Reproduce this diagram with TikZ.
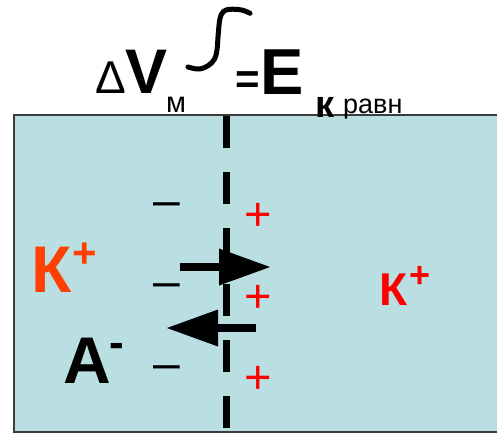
\documentclass[tikz,border=0pt]{standalone}
\usepackage{fontspec}
\setmainfont{Liberation Sans}
\usetikzlibrary{arrows.meta}
\definecolor{cellfill}{RGB}{186,223,227}
\definecolor{boxline}{RGB}{60,60,60}
\definecolor{kleft}{RGB}{255,64,0}
\definecolor{kright}{RGB}{255,0,0}
\newcommand{\px}[1]{\fontsize{#1pt}{#1pt}\selectfont}

\begin{document}
\begin{tikzpicture}[x=1pt, y=-1pt,
  lbl/.style={inner sep=0pt, anchor=base west},
  flux/.style={line width=8pt, -{Triangle[length=51pt, width=37pt, line width=0pt]}}]
  \useasboundingbox (0,0) rectangle (497,434);

  % Solution box
  \fill[cellfill] (14,115) rectangle (497,432);
  \draw[boxline, line width=2pt] (497,115) -- (14,115) -- (14,432) -- (497,432);

  % Membrane
  \coordinate (mtop) at (226,116);
  \coordinate (mbot) at (226,433);
  \draw[line width=7pt, dash pattern=on 32pt off 24pt] (mtop) -- (mbot);

  % Title
  \node[lbl, font=\px{46}] (delta) at (95,93) {Δ};
  \node[lbl, font=\px{63}\bfseries] (vsym) at (125,93) {V};
  \node[lbl, font=\px{29}] (vsub) at (166,112) {м};
  \draw[line width=5pt, line cap=round, line join=round]
    plot[smooth, tension=0.6] coordinates {(188,67) (200,69) (211.5,63) (216.5,53) (218.3,33) (220,18.5) (223.5,11.5) (230,9.3) (241.7,10) (250,13.3)};
  \node[lbl, font=\px{42}\bfseries] (eqs) at (235,93) {=};
  \node[lbl, font=\px{65}\bfseries] (esym) at (260,94) {E};
  \node[lbl, font=\px{38}\bfseries] (ksub) at (315,117) {к};
  \node[lbl, font=\px{27}] (ravn) at (343,113) {равн};

  % Charges
  \foreach \y [count=\i] in {216,297,379}{
    \node[lbl, font=\px{48}] (neg\i) at (153,\y) {–};
  }
  \foreach \y [count=\i] in {230.5,312.5,393.5}{
    \node[lbl, text=kright, font=\px{47}] (pos\i) at (244.5,\y) {+};
  }

  % Ions
  \node[lbl, text=kleft, font=\bfseries] (kin) at (31,292) {\px{66}К\kern1pt\raisebox{25pt}{\px{42}+}};
  \node[lbl, text=kright, font=\bfseries] (kout) at (379.6,305) {\px{46}К\kern2pt\raisebox{17.4pt}{\px{36}+}};
  \node[lbl, font=\bfseries] (anion) at (63,383) {\px{66}A\kern-1.4pt\raisebox{25.5pt}{\px{44}-}};

  % Fluxes
  \coordinate (outA) at (180,267);
  \coordinate (outB) at (270,267);
  \coordinate (inA) at (256,328);
  \coordinate (inB) at (167,328);
  \draw[flux] (outA) -- (outB);
  \draw[flux] (inA) -- (inB);
\end{tikzpicture}
\end{document}
